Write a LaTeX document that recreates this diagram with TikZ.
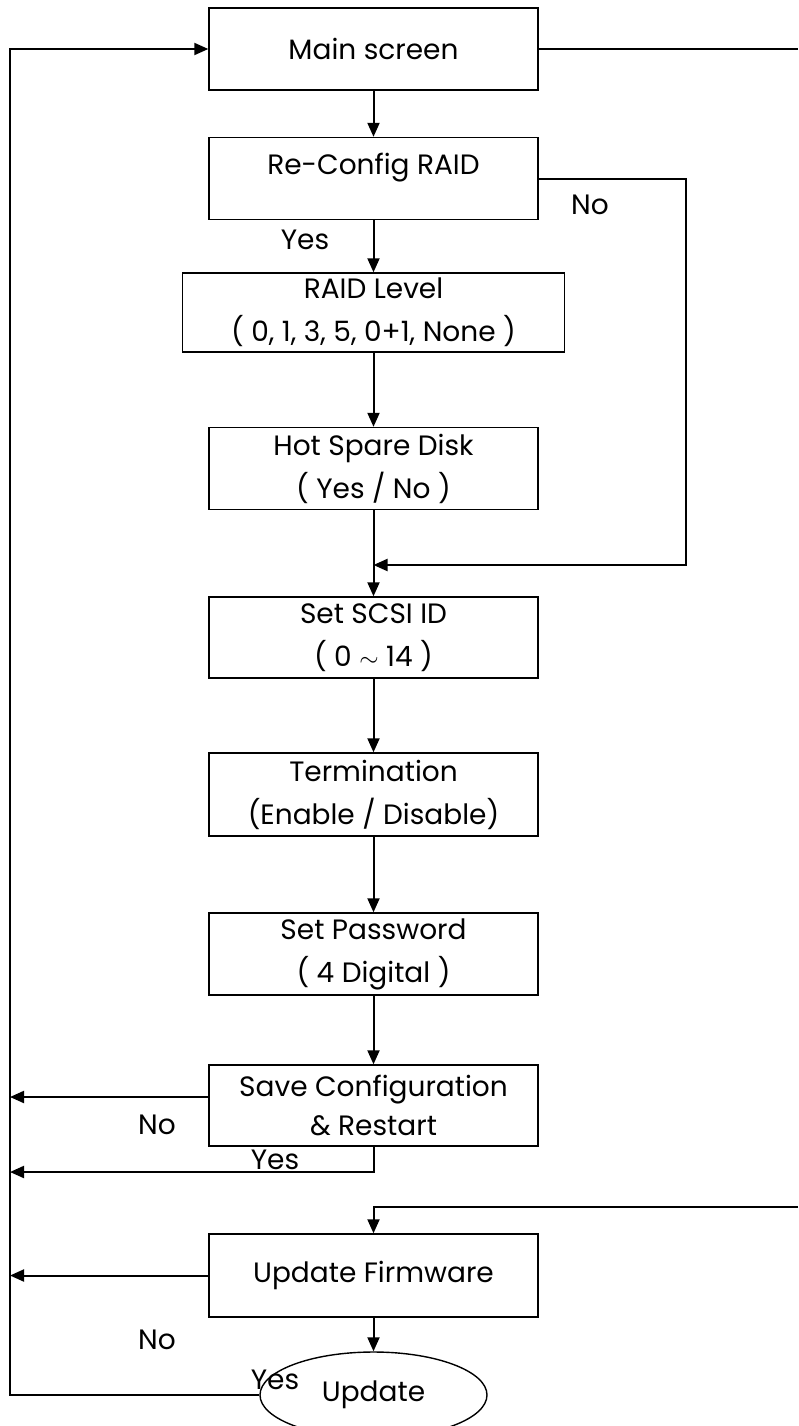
\documentclass[tikz,border=0pt]{standalone}
\usepackage{fontspec}
\setmainfont{Poppins}
\usetikzlibrary{arrows.meta,shapes.geometric}
\begin{document}
\begin{tikzpicture}[x=1pt,y=-1pt,
  box/.style={draw, line width=1.4pt, minimum width=329pt, minimum height=82pt, align=center, inner sep=0pt, font=\fontsize{28}{43}\selectfont},
  lbl/.style={font=\fontsize{28}{32}\selectfont, inner sep=0pt},
  arr/.style={line width=2pt, -{Triangle[length=14pt,width=12pt]}},
  ln/.style={line width=1.6pt}]
\useasboundingbox (0,0) rectangle (798,1426);

\node[box] (main) at (373.5,49) {Main screen};
\node[box, text depth=30pt] (reconfig) at (373.5,178.5) {Re-Config RAID};
\node[box, minimum width=382pt, minimum height=79pt] (raid) at (373.5,312.5) {RAID Level\\( 0, 1, 3, 5, 0+1, None )};
\node[box] (hot) at (373.5,468.5) {Hot Spare Disk\\( Yes / No )};
\node[box, minimum height=81pt] (scsi) at (373.5,637.5) {Set SCSI ID\\( 0 $\sim$ 14 )};
\node[box, minimum height=83pt] (term) at (373.5,794.5) {Termination\\(Enable / Disable)};
\node[box] (pass) at (373.5,954) {Set Password\\( 4 Digital )};
\node[box, minimum height=81pt, font=\fontsize{28}{39}\selectfont] (save) at (373.5,1105.5) {Save Configuration\\\& Restart};
\node[box, minimum height=83pt] (fw) at (373.5,1275.5) {Update Firmware};
\node[draw, ellipse, line width=1.4pt, minimum width=227pt, minimum height=86pt, inner sep=0pt, font=\fontsize{28}{32}\selectfont] (upd) at (373.5,1395) {Update};

\coordinate (nojoin) at (373.5,565);
\coordinate (lt) at (10,49);
\coordinate (sn) at (10,1097);
\coordinate (sy) at (10,1172);
\coordinate (fn) at (10,1275.5);
\coordinate (mr) at (798,49);
\coordinate (fr) at (798,1207);

\draw[arr] (main) -- (reconfig);
\draw[arr] (reconfig) -- (raid);
\draw[arr] (raid) -- (hot);
\draw[arr] (hot) -- (scsi);
\draw[arr] (scsi) -- (term);
\draw[arr] (term) -- (pass);
\draw[arr] (pass) -- (save);
\draw[arr] (fw) -- (upd);

\draw[arr] (reconfig.east) -- ++(147,0) |- (nojoin);
\draw[arr] (upd.west) -| (lt) -- (main.west);
\draw[arr] (save.west |- sn) -- (sn);
\draw[arr] (save.south) |- (sy);
\draw[arr] (fw.west) -- (fn);
\draw[ln] (main.east) -- (mr);
\draw[arr] (fr) -| (fw.north);

\node[lbl] (l1) at (590,205) {No};
\node[lbl] (l2) at (305,240) {Yes};
\node[lbl] (l3) at (157,1125) {No};
\node[lbl] (l4) at (275,1160) {Yes};
\node[lbl] (l5) at (157,1340) {No};
\node[lbl] (l6) at (275,1380) {Yes};
\end{tikzpicture}
\end{document}
